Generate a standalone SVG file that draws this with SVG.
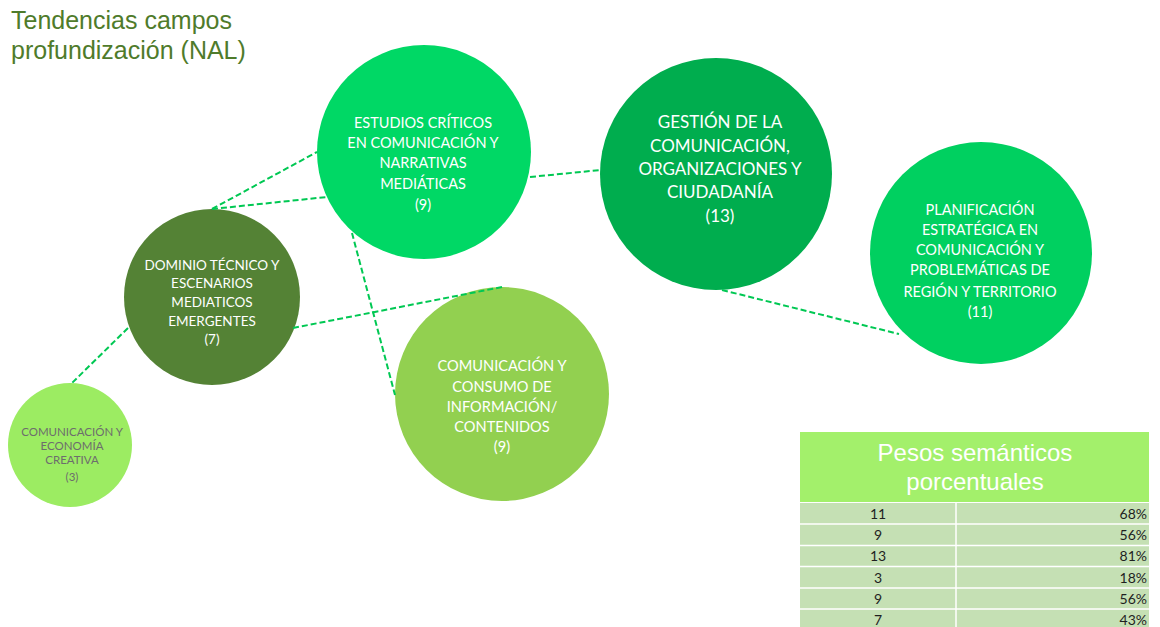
<svg xmlns="http://www.w3.org/2000/svg" width="1160" height="627" viewBox="0 0 1160 627">
<style>
.lbl{font-family:Lato,"Open Sans",sans-serif;fill:#ffffff;text-anchor:middle}
.conn line{stroke:#00c853;stroke-width:2;stroke-dasharray:6 3;fill:none}
.title{font-family:"Liberation Sans",Arial,sans-serif;font-size:25px;fill:#4f7b2b}
.hdr{font-family:"Liberation Sans",Arial,sans-serif;font-size:24px;fill:#ffffff;text-anchor:middle}
.cell{font-family:Lato,"Open Sans",sans-serif;font-size:14px;fill:#1f1f1f}
.row{fill:#c5e0b4}
</style>
<rect width="1160" height="627" fill="#ffffff"/>
<g id="title">
<text class="title" x="11" y="29">Tendencias campos</text>
<text class="title" x="11" y="59">profundización (NAL)</text>
</g>
<g id="estudios">
<circle cx="424" cy="152" r="107" fill="#00d865"/>
<text class="lbl" font-size="14.5"><tspan x="423" y="128">ESTUDIOS CRÍTICOS</tspan><tspan x="423" y="148">EN COMUNICACIÓN Y</tspan><tspan x="423" y="168">NARRATIVAS</tspan><tspan x="423" y="189">MEDIÁTICAS</tspan><tspan x="423" y="210">(9)</tspan></text>
</g>
<g id="gestion">
<circle cx="716" cy="174" r="116" fill="#00ad4e"/>
<text class="lbl" font-size="17"><tspan x="720" y="128">GESTIÓN DE LA</tspan><tspan x="720" y="152">COMUNICACIÓN,</tspan><tspan x="720" y="175">ORGANIZACIONES Y</tspan><tspan x="720" y="198">CIUDADANÍA</tspan><tspan x="720" y="222">(13)</tspan></text>
</g>
<g id="planificacion">
<circle cx="981" cy="253" r="111" fill="#00d060"/>
<text class="lbl" font-size="14.5"><tspan x="980" y="215">PLANIFICACIÓN</tspan><tspan x="980" y="235">ESTRATÉGICA EN</tspan><tspan x="980" y="255">COMUNICACIÓN Y</tspan><tspan x="980" y="275">PROBLEMÁTICAS DE</tspan><tspan x="980" y="297">REGIÓN Y TERRITORIO</tspan><tspan x="980" y="317">(11)</tspan></text>
</g>
<g id="dominio">
<circle cx="212" cy="297" r="88" fill="#548235"/>
<text class="lbl" font-size="13.5"><tspan x="212" y="270">DOMINIO TÉCNICO Y</tspan><tspan x="212" y="288">ESCENARIOS</tspan><tspan x="212" y="307">MEDIATICOS</tspan><tspan x="212" y="326">EMERGENTES</tspan><tspan x="212" y="344">(7)</tspan></text>
</g>
<g id="consumo">
<circle cx="502" cy="394" r="107" fill="#92d050"/>
<text class="lbl" font-size="14.6"><tspan x="502" y="371">COMUNICACIÓN Y</tspan><tspan x="502" y="392">CONSUMO DE</tspan><tspan x="502" y="412">INFORMACIÓN/</tspan><tspan x="502" y="432">CONTENIDOS</tspan><tspan x="502" y="452">(9)</tspan></text>
</g>
<g id="economia">
<circle cx="70" cy="445" r="62" fill="#9cec62"/>
<text class="lbl" font-size="11.5" style="fill:#6d6d6d"><tspan x="72" y="436">COMUNICACIÓN Y</tspan><tspan x="72" y="450">ECONOMÍA</tspan><tspan x="72" y="464">CREATIVA</tspan><tspan x="72" y="481">(3)</tspan></text>
</g>
<g id="connectors" class="conn">
<line x1="212" y1="209" x2="317" y2="152"/>
<line x1="212" y1="209" x2="327" y2="197"/>
<line x1="530" y1="177" x2="601" y2="170"/>
<line x1="352" y1="233" x2="395" y2="395"/>
<line x1="293" y1="328" x2="502" y2="287"/>
<line x1="128" y1="328" x2="72" y2="383"/>
<line x1="722" y1="290" x2="899" y2="334"/>
</g>
<g id="table">
<rect x="800" y="432" width="349" height="70" fill="#a3f06b"/>
<text class="hdr" x="975" y="461">Pesos semánticos</text>
<text class="hdr" x="975" y="490">porcentuales</text>
<rect class="row" x="800" y="503" width="349" height="124"/>
<g stroke="#ffffff" stroke-width="1.5">
<line x1="800" y1="524" x2="1149" y2="524"/>
<line x1="800" y1="545.5" x2="1149" y2="545.5"/>
<line x1="800" y1="566.5" x2="1149" y2="566.5"/>
<line x1="800" y1="588" x2="1149" y2="588"/>
<line x1="800" y1="609" x2="1149" y2="609"/>
<line x1="956" y1="503" x2="956" y2="627"/>
</g>
<g class="cell" text-anchor="middle">
<text x="878" y="519">11</text>
<text x="878" y="540">9</text>
<text x="878" y="561">13</text>
<text x="878" y="583">3</text>
<text x="878" y="604">9</text>
<text x="878" y="625">7</text>
</g>
<g class="cell" text-anchor="end">
<text x="1147" y="519">68%</text>
<text x="1147" y="540">56%</text>
<text x="1147" y="561">81%</text>
<text x="1147" y="583">18%</text>
<text x="1147" y="604">56%</text>
<text x="1147" y="625">43%</text>
</g>
</g>
</svg>
